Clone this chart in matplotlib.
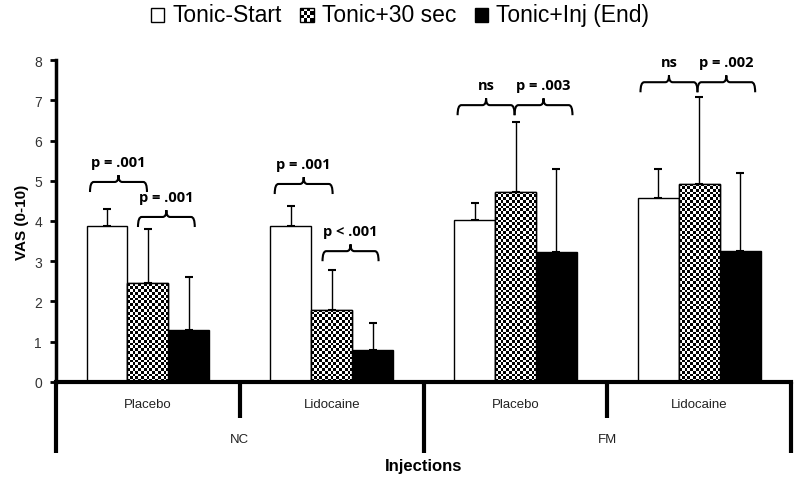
import numpy as np
import matplotlib
matplotlib.use("Agg")
import matplotlib.pyplot as plt
from matplotlib.patches import Rectangle, PathPatch
from matplotlib.path import Path
import matplotlib.transforms as mtransforms

# data
series = ["Tonic-Start", "Tonic+30 sec", "Tonic+Inj (End)"]
groups = ["Placebo", "Lidocaine", "Placebo", "Lidocaine"]
cohorts = ["NC", "FM"]
tonic_start = [3.87, 3.88, 4.02, 4.58]
tonic_30 = [2.45, 1.78, 4.72, 4.92]
tonic_end = [1.28, 0.80, 3.23, 3.26]
err_start = [0.43, 0.50, 0.43, 0.70]
err_30 = [1.35, 0.99, 1.75, 2.15]
err_end = [1.32, 0.67, 2.07, 1.94]
# (group, left, right, level, label)
braces = [
    (0, -0.315, -0.005, 4.97, "p = .001"),
    (0, -0.054, 0.255, 4.10, "p = .001"),
    (1, -0.31, 0.005, 4.92, "p = .001"),
    (1, -0.05, 0.255, 3.25, "p < .001"),
    (2, -0.315, -0.005, 6.88, "ns"),
    (2, -0.005, 0.31, 6.88, "p = .003"),
    (3, -0.32, -0.01, 7.45, "ns"),
    (3, -0.01, 0.304, 7.45, "p = .002"),
]

plt.rcParams["font.family"] = ["Liberation Sans", "DejaVu Sans"]

fig = plt.figure(figsize=(8, 4.81), dpi=100)
ax = fig.add_axes([0.07, 0.204, 0.919, 0.669])

x = np.arange(len(groups))
w = 0.222
values = [tonic_start, tonic_30, tonic_end]
errs = [err_start, err_30, err_end]
face = ["white", "white", "black"]

sx = 2.8 / 184.0
sy = 2.8 / 40.25

for k in range(3):
    pos = x + (k - 1) * w
    bars = ax.bar(pos, values[k], w, color=face[k], edgecolor="black", linewidth=1, zorder=2)
    ax.errorbar(pos, values[k], yerr=[np.zeros(len(groups)), errs[k]], fmt="none",
                ecolor="black", elinewidth=1, capsize=3, capthick=1.5, zorder=1)
    if k == 1:
        for b in bars:
            x0 = b.get_x()
            h = b.get_height()
            nx = int(np.ceil(b.get_width() / sx))
            ny = int(np.ceil(h / sy))
            board = np.indices((ny, nx)).sum(axis=0) % 2
            im = ax.imshow(board, cmap="gray", interpolation="nearest", aspect="auto",
                           origin="lower", extent=(x0, x0 + nx * sx, 0, ny * sy), zorder=2.5)
            im.set_clip_path(b)
            ax.add_patch(Rectangle((x0, 0), b.get_width(), h, fill=False,
                                   edgecolor="black", linewidth=1, zorder=3))


def draw_brace(x0, x1, y, label):
    d = 0.25
    u = 0.17
    r = 0.02
    xm = (x0 + x1) / 2
    verts = [(x0, y - d), (x0, y), (x0 + r, y),
             (xm - r, y), (xm, y), (xm, y + u),
             (xm, y), (xm + r, y),
             (x1 - r, y), (x1, y), (x1, y - d)]
    codes = [Path.MOVETO, Path.CURVE3, Path.CURVE3,
             Path.LINETO, Path.CURVE3, Path.CURVE3,
             Path.CURVE3, Path.CURVE3,
             Path.LINETO, Path.CURVE3, Path.CURVE3]
    ax.add_patch(PathPatch(Path(verts, codes), fill=False, edgecolor="black",
                           linewidth=1.5, zorder=4, clip_on=False))
    ax.text(xm, y + 0.5, label, ha="center", va="center", fontsize=10.5,
            fontweight="bold", family=["Open Sans", "DejaVu Sans"], zorder=5)


for g, l, r, lev, lab in braces:
    draw_brace(g + l, g + r, lev, lab)

ax.set_xlim(-0.5, 3.5)
ax.set_ylim(0, 8)
ax.set_yticks(range(0, 9))
ax.tick_params(axis="y", direction="out", length=4, width=2, labelsize=10,
               labelcolor="#333333", pad=6)
ax.tick_params(axis="x", length=0, labelbottom=False)
for s in ["top", "right"]:
    ax.spines[s].set_visible(False)
ax.spines["left"].set_linewidth(2.5)
ax.spines["bottom"].set_linewidth(3)
ax.set_ylabel("VAS (0-10)", fontsize=11, fontweight="bold", labelpad=4)

# hierarchical category axis below
trans = mtransforms.blended_transform_factory(ax.transData, ax.transAxes)
for xb in [-0.5, 1.5, 3.5]:
    ax.plot([xb, xb], [0, -0.22], transform=trans, color="black", lw=3,
            clip_on=False, solid_capstyle="butt")
for xb in [0.5, 2.5]:
    ax.plot([xb, xb], [0, -0.113], transform=trans, color="black", lw=3,
            clip_on=False, solid_capstyle="butt")
for i, g in enumerate(groups):
    ax.text(i, -0.07, g, transform=trans, ha="center", va="center",
            fontsize=9.5, color="#222222")
for i, c in enumerate(cohorts):
    ax.text(2 * i + 0.5, -0.177, c, transform=trans, ha="center", va="center",
            fontsize=9.5, color="#222222")
ax.text(1.5, -0.26, "Injections", transform=trans, ha="center", va="center",
        fontsize=12, fontweight="bold")


class CheckerHandler:
    def legend_artist(self, legend, orig_handle, fontsize, handlebox):
        x0, y0 = handlebox.xdescent, handlebox.ydescent
        s = min(handlebox.width, handlebox.height)
        n = 4
        t = handlebox.get_transform()
        for i in range(n):
            for j in range(n):
                c = "black" if (i + j) % 2 else "white"
                handlebox.add_artist(Rectangle((x0 + i * s / n, y0 + j * s / n), s / n, s / n,
                                               facecolor=c, edgecolor="none", transform=t))
        border = Rectangle((x0, y0), s, s, facecolor="none", edgecolor="black",
                           linewidth=1, transform=t)
        handlebox.add_artist(border)
        return border


class SquareHandler:
    def __init__(self, fc):
        self.fc = fc

    def legend_artist(self, legend, orig_handle, fontsize, handlebox):
        x0, y0 = handlebox.xdescent, handlebox.ydescent
        s = min(handlebox.width, handlebox.height)
        p = Rectangle((x0, y0), s, s, facecolor=self.fc, edgecolor="black", linewidth=1,
                      transform=handlebox.get_transform())
        handlebox.add_artist(p)
        return p


h1, h2, h3 = object(), object(), object()
leg = fig.legend([h1, h2, h3], series, loc="upper center", bbox_to_anchor=(0.5, 1.035),
                 ncol=3, frameon=False, handlelength=0.6, handleheight=0.6,
                 handletextpad=0.35, columnspacing=0.8,
                 prop={"size": 16.5},
                 handler_map={h1: SquareHandler("white"), h2: CheckerHandler(),
                              h3: SquareHandler("black")})

fig.savefig("out.png", dpi=100)
